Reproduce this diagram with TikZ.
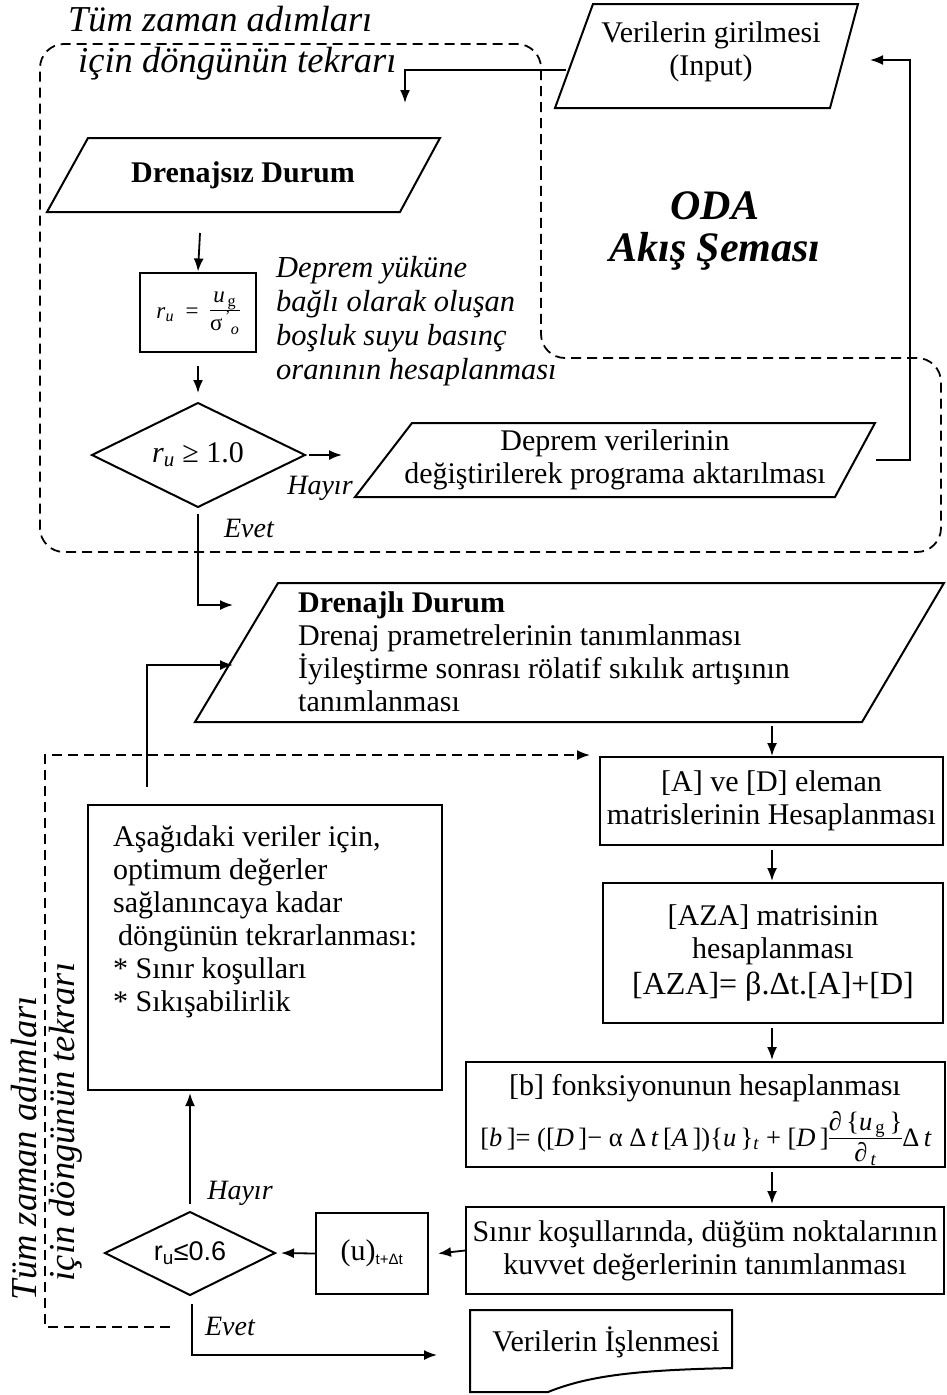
\documentclass[tikz,border=0pt]{standalone}
\usepackage{fontspec}
\setmainfont{Liberation Serif}
\newfontfamily\sansf{Liberation Sans}
\usetikzlibrary{arrows.meta}
\newcommand\myfrac[2]{{\setlength\arrayrulewidth{0.8pt}\setlength\tabcolsep{0pt}\renewcommand\arraystretch{0.9}\begin{tabular}[c]{c}#1\\\hline\rule{0pt}{0.85em}#2\end{tabular}}}
\begin{document}
\begin{tikzpicture}[x=1pt,y=-1pt,
 box/.style={draw,line width=2pt},
 arr/.style={line width=1.8pt,-{Latex[length=13pt,width=10pt]}},
 dsh/.style={line width=1.8pt,dash pattern=on 10pt off 6pt},
 txt/.style={inner sep=0pt,align=center,font=\fontsize{30}{33}\selectfont},
 txl/.style={inner sep=0pt,align=left,font=\fontsize{30}{33}\selectfont},
 itx/.style={inner sep=0pt,align=left,font=\itshape\fontsize{30.5}{34}\selectfont},
 lbl/.style={inner sep=0pt,font=\itshape\fontsize{28}{30}\selectfont},
 big/.style={inner sep=0pt,align=left,font=\itshape\fontsize{36.5}{40}\selectfont},
]
\useasboundingbox (0,0) rectangle (946,1395);

% ---- top dashed loop region
\draw[dsh,rounded corners=24pt] (541,200) -- (541,44) -- (40,44) -- (40,552) -- (941,552) -- (941,358) -- (541,358) -- cycle;
\node[big,anchor=base west] (lab1) at (68,31) {Tüm zaman adımları};
\node[big,anchor=base west] (lab2) at (78,72) {için döngünün tekrarı};

% ---- input
\draw[box] (593,4) -- (858,4) -- (830,108) -- (555,108) -- cycle;
\node[txt] (input) at (711,52) {Verilerin girilmesi\\(Input)};
\coordinate (inL) at (566,70);
\coordinate (inR) at (870,60);

% ---- Drenajsiz
\draw[box] (88,138) -- (440,138) -- (400,212) -- (47,212) -- cycle;
\node[txt,font=\bfseries\fontsize{30}{33}\selectfont] (ds) at (243,175) {Drenajsız Durum};
\coordinate (dsIn) at (405,103);
\draw[arr] (inL) -| (dsIn);
\coordinate (dsOut) at (200,233);

% ---- ru box
\node[box,minimum width=116pt,minimum height=79pt,inner sep=0pt] (ru) at (198,312)
 {\fontsize{23}{25}\selectfont\textit{r}\textsubscript{\textit{u}}\ \ =\ \ \myfrac{\textit{u}\textsubscript{\,g}}{σ\textsuperscript{\,'}\textsubscript{\textit{o}}}};
\draw[arr] (dsOut) -- (ru.north);
\node[itx,anchor=west] (rutxt) at (276,321) {Deprem yüküne\\bağlı olarak oluşan\\boşluk suyu basınç\\oranının hesaplanması};

% ---- diamond 1
\draw[box] (92,455) -- (198,403) -- (305,455) -- (198,507) -- cycle;
\node[txt] (d1) at (198,455) {\textit{r}\textsubscript{\textit{u}}\ ≥ 1.0};
\coordinate (rub) at (198,366);
\coordinate (d1top) at (198,393);
\draw[arr] (rub) -- (d1top);
\coordinate (d1r) at (309,455);
\coordinate (dpin) at (342,455);
\draw[arr] (d1r) -- (dpin);
\node[lbl] (hay1) at (320,488) {Hayır};

% ---- Deprem parallelogram
\draw[box] (412,423) -- (875,423) -- (835,497) -- (355,497) -- cycle;
\node[txt] (dp) at (615,460) {Deprem verilerinin\\değiştirilerek programa aktarılması};
\coordinate (dpR) at (876,460);
\coordinate (loopc) at (910,60);
\draw[arr] (dpR) -| (loopc) -- (inR);

% ---- Evet 1
\coordinate (d1b) at (198,514);
\coordinate (drIn1) at (233,605);
\draw[arr] (d1b) |- (drIn1);
\node[lbl] (ev1) at (249,528) {Evet};

% ---- Drenajli
\draw[box] (278,583) -- (944,583) -- (862,722) -- (195,722) -- cycle;
\node[txl,anchor=west] (dr) at (298,652) {\textbf{Drenajlı Durum}\\Drenaj prametrelerinin tanımlanması\\İyileştirme sonrası rölatif sıkılık artışının\\tanımlanması};
\coordinate (drOut) at (772,726);
\coordinate (drIn2) at (233,665);

% ---- A and D
\node[box,txt,minimum width=343pt,minimum height=88pt] (ab) at (771.5,801) {[A] ve [D] eleman\\matrislerinin Hesaplanması};
\coordinate (abIn) at (772,756);
\draw[arr] (drOut) -- (abIn);

% ---- AZA
\node[box,txt,minimum width=340pt,minimum height=140pt] (aza) at (773,953) {[AZA] matrisinin\\hesaplanması\\[3pt]{\fontsize{32}{35}\selectfont [AZA]= β.Δt.[A]+[D]}};
\coordinate (abOut) at (772,850);
\coordinate (azaIn) at (772,881);
\draw[arr] (abOut) -- (azaIn);

% ---- b
\node[box,minimum width=479pt,minimum height=105pt] (bb) at (705,1114.5) {};
\node[txt] (bt) at (705,1088) {[b] fonksiyonunun hesaplanması};
\node[inner sep=0pt,font=\fontsize{26.5}{28}\selectfont] (bf) at (706,1140) {[\textit{b}\,]= ([\textit{D}\,]− α Δ\,\textit{t}\,[\textit{A}\,])\{\textit{u}\,\}\textsubscript{\textit{t}} + [\textit{D}\,]\myfrac{∂\,\{\textit{u}\textsubscript{\,g}\,\}}{∂\textsubscript{\,\textit{t}}}Δ\,\textit{t}};
\coordinate (azaOut) at (772,1028);
\coordinate (bbIn) at (772,1060);
\draw[arr] (azaOut) -- (bbIn);

% ---- Sinir
\node[box,txt,minimum width=478pt,minimum height=87pt] (sb) at (705,1250.5) {Sınır koşullarında, düğüm noktalarının\\kuvvet değerlerinin tanımlanması};
\coordinate (bbOut) at (772,1172);
\coordinate (sbIn) at (772,1204);
\draw[arr] (bbOut) -- (sbIn);

% ---- u box
\node[box,minimum width=112pt,minimum height=81pt,inner sep=0pt,font=\fontsize{30}{32}\selectfont] (ub) at (372,1253.5) {(u)\textsubscript{\sansf\fontsize{15}{16}\selectfont t+Δt}};
\draw[arr] (sb.west) -- ([xshift=9pt]ub.east);

% ---- diamond 2
\draw[box] (105,1253) -- (190,1212) -- (275,1253) -- (190,1295) -- cycle;
\node[inner sep=0pt,font=\sansf\fontsize{27}{29}\selectfont] (d2) at (190,1253) {r\textsubscript{u}≤0.6};
\coordinate (d2r) at (281,1253);
\draw[arr] (ub.west) -- (d2r);

% ---- left box
\node[box,minimum width=354pt,minimum height=285pt] (lb) at (265,947.5) {};
\node[txl,anchor=west] (lbt) at (113,922) {Aşağıdaki veriler için,\\optimum değerler\\sağlanıncaya kadar\\\hspace{5pt}döngünün tekrarlanması:\\* Sınır koşulları\\* Sıkışabilirlik};
\coordinate (lbtop) at (147,787);
\draw[arr] (lbtop) |- (drIn2);
\coordinate (d2t) at (190,1204);
\coordinate (lbIn) at (190,1093);
\draw[arr] (d2t) -- (lbIn);
\node[lbl] (hay2) at (240,1193) {Hayır};

% ---- output
\coordinate (d2b) at (192,1304);
\coordinate (outIn) at (437,1355);
\draw[arr] (d2b) |- (outIn);
\node[lbl] (ev2) at (230,1326) {Evet};
\draw[box] (470,1310) -- (732,1310) -- (732,1368) .. controls (640,1370) and (590,1375) .. (548,1392) -- (470,1392) -- cycle;
\node[txt] (out) at (606,1342) {Verilerin İşlenmesi};

% ---- bottom dashed loop
\coordinate (dl0) at (170,1327);
\coordinate (dl1) at (590,755);
\draw[dsh,-{Latex[length=13pt,width=10pt]}] (dl0) -- (45,1327) |- (dl1);
\node[big,rotate=90] (vl1) at (24,1148) {Tüm zaman adımları};
\node[big,rotate=90] (vl2) at (66,1122) {için döngünün tekrarı};

% ---- ODA
\node[inner sep=0pt,align=center,font=\bfseries\itshape\fontsize{42}{42}\selectfont] (oda) at (715,231) {ODA\\Akış Şeması};
\end{tikzpicture}
\end{document}
